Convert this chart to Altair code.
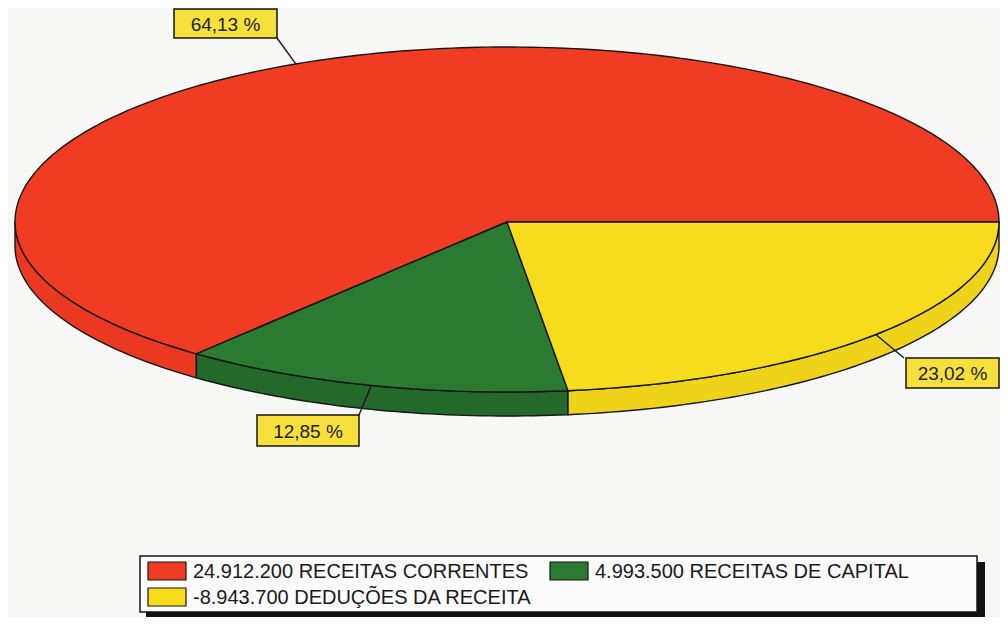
import altair as alt
import numpy as np
import pandas as pd

# ---- data ----
categories = ["RECEITAS CORRENTES", "RECEITAS DE CAPITAL", "DEDUÇÕES DA RECEITA"]
values = [24912200, 4993500, -8943700]
value_text = ["24.912.200", "4.993.500", "-8.943.700"]
top_colors = ["#f03c22", "#2a7a32", "#f6dc1c"]
side_colors = ["#ea3920", "#22692a", "#eed31a"]

# ---- layout (view pixels; page margin is 8px) ----
OFF = 8
CX, CY = 507 - OFF, 222 - OFF
A, BT, BB, DEPTH = 492, 175, 170, 24

abs_vals = [abs(v) for v in values]
total = sum(abs_vals)
shares = [v / total for v in abs_vals]


def pt(deg, dy=0.0):
    t = np.radians(deg)
    s = np.sin(t)
    b = BT if s > 0 else BB
    return [float(CX + A * np.cos(t)), float(CY - b * s + dy)]


def arc(t1, t2, dy=0.0):
    n = max(2, int(abs(t2 - t1) / 1.0) + 1)
    return [pt(t, dy) for t in np.linspace(t1, t2, n)]


rims, tops, mids = [], [], []
start = 0.0
for i, sh in enumerate(shares):
    end = start + sh * 360.0
    mids.append((start + end) / 2)
    ring = [[float(CX), float(CY)]] + arc(start, end) + [[float(CX), float(CY)]]
    tops.append({"type": "Feature", "geometry": {"type": "Polygon", "coordinates": [ring]},
                 "properties": {"fill": top_colors[i]}})
    lo, hi = max(start, 180.0), min(end, 360.0)
    if hi > lo:
        r = arc(lo, hi) + arc(hi, lo, DEPTH)
        r.append(r[0])
        rims.append({"type": "Feature", "geometry": {"type": "Polygon", "coordinates": [r]},
                     "properties": {"fill": side_colors[i]}})
    start = end

features = rims + tops

pie = alt.Chart(alt.Data(values=features)).mark_geoshape(
    stroke="#161616", strokeWidth=1.4, strokeJoin="round"
).encode(
    fill=alt.Fill("properties.fill:N", scale=None)
).project(type="identity", scale=1, translate=[0, 0])

# ---- percentage labels ----
pct_text = [f"{s*100:.2f} %".replace(".", ",") for s in shares]
boxes = [(174, 9, 277, 38), (257, 415, 359, 446), (906, 358, 999, 388)]
corners = [(277, 38), (359, 415), (904, 358)]
anchors = [pt(m) for m in mids]

lab = pd.DataFrame({
    "x": [b[0] - OFF for b in boxes], "y": [b[1] - OFF for b in boxes],
    "x2": [b[2] - OFF for b in boxes], "y2": [b[3] - OFF for b in boxes],
    "tx": [(b[0] + b[2]) / 2 - OFF for b in boxes], "ty": [(b[1] + b[3]) / 2 - OFF + 1 for b in boxes],
    "text": pct_text,
    "lx": [c[0] - OFF for c in corners], "ly": [c[1] - OFF for c in corners],
    "ax": [a[0] for a in anchors], "ay": [a[1] for a in anchors],
})

leaders = alt.Chart(lab).mark_rule(color="#161616", strokeWidth=1.4).encode(
    x=alt.X("lx:Q", scale=None, axis=None), y=alt.Y("ly:Q", scale=None, axis=None),
    x2="ax:Q", y2="ay:Q")
lbox = alt.Chart(lab).mark_rect(fill="#f7df3c", stroke="#161616", strokeWidth=1.5).encode(
    x=alt.X("x:Q", scale=None, axis=None), y=alt.Y("y:Q", scale=None, axis=None),
    x2="x2:Q", y2="y2:Q")
ltext = alt.Chart(lab).mark_text(font="Liberation Sans", fontSize=19, color="#222222",
                                 baseline="middle", align="center").encode(
    x=alt.X("tx:Q", scale=None, axis=None), y=alt.Y("ty:Q", scale=None, axis=None), text="text:N")

# ---- legend ----
leg_frame = pd.DataFrame({"x": [140 - OFF], "y": [556 - OFF], "x2": [977 - OFF], "y2": [612 - OFF],
                          "sx": [146 - OFF], "sy": [562 - OFF], "sx2": [985 - OFF], "sy2": [620 - OFF]})
shadow = alt.Chart(leg_frame).mark_rect(fill="#111111").encode(
    x=alt.X("sx:Q", scale=None, axis=None), y=alt.Y("sy:Q", scale=None, axis=None), x2="sx2:Q", y2="sy2:Q")
frame = alt.Chart(leg_frame).mark_rect(fill="#fbfbfb", stroke="#161616", strokeWidth=1.5).encode(
    x=alt.X("x:Q", scale=None, axis=None), y=alt.Y("y:Q", scale=None, axis=None), x2="x2:Q", y2="y2:Q")

sw_pos = [(148, 562), (550, 562), (148, 588)]
leg = pd.DataFrame({
    "x": [p[0] - OFF for p in sw_pos], "y": [p[1] - OFF for p in sw_pos],
    "x2": [p[0] + 38 - OFF for p in sw_pos], "y2": [p[1] + 18 - OFF for p in sw_pos],
    "tx": [p[0] + 45 - OFF for p in sw_pos], "ty": [p[1] + 10 - OFF for p in sw_pos],
    "color": top_colors,
    "label": [f"{v} {c}" for v, c in zip(value_text, categories)],
})
swatch = alt.Chart(leg).mark_rect(stroke="#161616", strokeWidth=1.2).encode(
    x=alt.X("x:Q", scale=None, axis=None), y=alt.Y("y:Q", scale=None, axis=None),
    x2="x2:Q", y2="y2:Q", fill=alt.Fill("color:N", scale=None))
legtext = alt.Chart(leg).mark_text(font="Liberation Sans", fontSize=20, color="#1a1a1a",
                                   baseline="middle", align="left").encode(
    x=alt.X("tx:Q", scale=None, axis=None), y=alt.Y("ty:Q", scale=None, axis=None), text="label:N")

chart = alt.layer(pie, leaders, lbox, ltext, shadow, frame, swatch, legtext).properties(
    width=992, height=609, autosize="none", padding=0, background="#f7f7f5"
).configure_view(stroke=None)

chart.save("out.html", embed_options={"renderer": "svg", "actions": False})
